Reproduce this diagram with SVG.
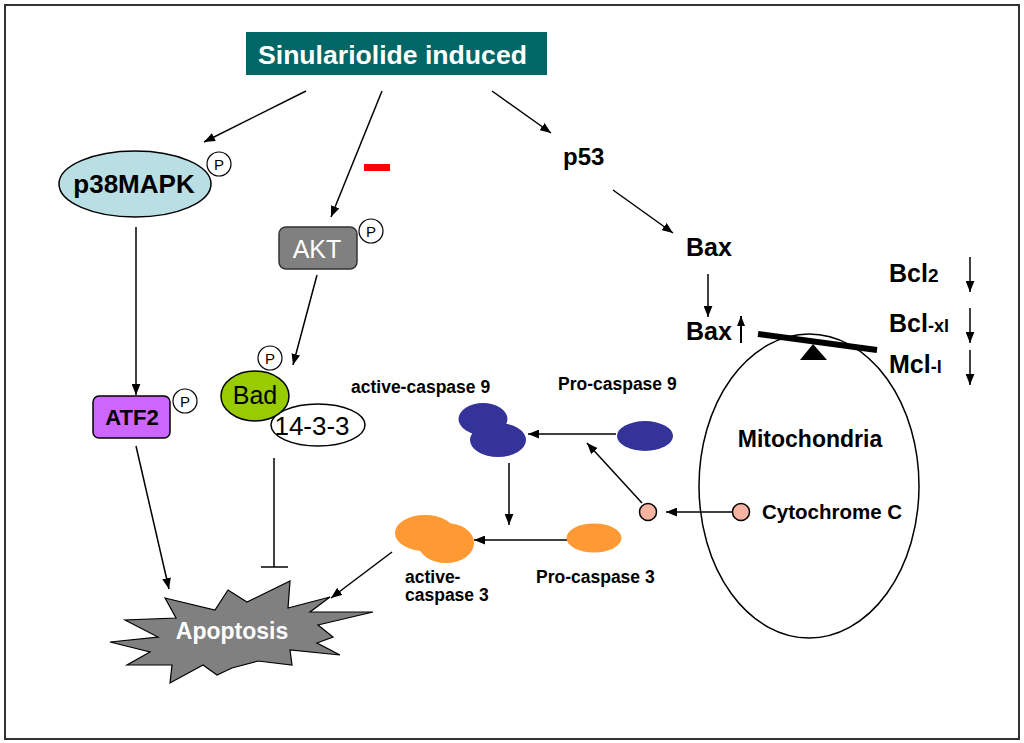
<svg xmlns="http://www.w3.org/2000/svg" width="1024" height="743" viewBox="0 0 1024 743">
<defs>
<marker id="arr" viewBox="0 0 10 8" refX="10" refY="4" markerWidth="11" markerHeight="9" markerUnits="userSpaceOnUse" orient="auto">
<path d="M0,0 L10,4 L0,8 z" fill="#000"/>
</marker>
<marker id="arrs" viewBox="0 0 10 8" refX="10" refY="4" markerWidth="10" markerHeight="8" markerUnits="userSpaceOnUse" orient="auto">
<path d="M0,0 L10,4 L0,8 z" fill="#000"/>
</marker>
<style>
text{font-family:"Liberation Sans",Arial,sans-serif;fill:#000}
.b{font-weight:bold}
.w{fill:#fff}
.ln{stroke:#000;stroke-width:1.5;fill:none}
.a{stroke:#000;stroke-width:1.5;fill:none;marker-end:url(#arr)}
.as{stroke:#000;stroke-width:2;fill:none;marker-end:url(#arrs)}
.p{fill:#fff;stroke:#000;stroke-width:1.2}
.pt{font-size:15px;text-anchor:middle}
.ol{stroke:#000;stroke-width:1.5}
.c9{fill:#333399}
.c3{fill:#ff9933}
.cyt{fill:#f8b4a2;stroke:#000;stroke-width:1.5}
.lbl{font-size:17.5px;font-weight:bold}
</style>
</defs>
<rect x="5" y="5" width="1014" height="734" fill="#fff" stroke="#333" stroke-width="2"/>

<g id="connectors">
<line class="a" x1="306" y1="91" x2="204" y2="142"/>
<line class="a" x1="382" y1="91" x2="331" y2="217"/>
<line class="a" x1="492" y1="91" x2="551" y2="133"/>
<line class="a" x1="136" y1="227" x2="136" y2="395"/>
<line class="a" x1="317" y1="275" x2="293" y2="365"/>
<line class="a" x1="136" y1="446" x2="169" y2="589"/>
<line class="ln" x1="274" y1="458" x2="274" y2="567" stroke-width="1.2"/>
<line class="ln" x1="261" y1="567" x2="288" y2="567" stroke-width="1.2"/>
<line class="a" x1="392" y1="552" x2="331" y2="598"/>
<line class="a" x1="567" y1="540" x2="474" y2="540"/>
<line class="a" x1="616" y1="434" x2="528" y2="434"/>
<line class="a" x1="509" y1="463" x2="509" y2="525"/>
<line class="a" x1="642" y1="503" x2="587" y2="443"/>
<line class="a" x1="733" y1="512" x2="666" y2="512"/>
<line class="a" x1="613" y1="190" x2="673" y2="233"/>
<line class="a" x1="708" y1="274" x2="708" y2="317"/>
<line class="as" x1="741" y1="343" x2="741" y2="316"/>
<line class="a" x1="970" y1="257" x2="970" y2="292"/>
<line class="a" x1="970" y1="308" x2="970" y2="343"/>
<line class="a" x1="970" y1="350" x2="970" y2="385"/>
</g>

<g id="title">
<rect x="246" y="32" width="301" height="43" fill="#006666"/>
<text x="258" y="64" class="b w" font-size="26.6">Sinulariolide induced</text>
</g>

<g id="inhibit-mark">
<rect x="364" y="164" width="26" height="7" fill="#ff0000"/>
</g>

<g id="p38MAPK">
<ellipse cx="135" cy="184" rx="76" ry="33" fill="#b9dfe4" class="ol"/>
<text x="134" y="193" class="b" font-size="26" text-anchor="middle">p38MAPK</text>
<circle cx="219" cy="164" r="12" class="p"/>
<text x="219" y="170" class="pt">P</text>
</g>

<g id="ATF2">
<rect x="93" y="396" width="77" height="42" rx="6" fill="#cc66ff" class="ol"/>
<text x="132" y="425" class="b" font-size="22" text-anchor="middle">ATF2</text>
<circle cx="185" cy="401" r="12" class="p"/>
<text x="185" y="407" class="pt">P</text>
</g>

<g id="AKT">
<rect x="279" y="227" width="78" height="42" rx="7" fill="#808080" stroke="#333" stroke-width="1.5"/>
<text x="317" y="258" class="w" font-size="25" text-anchor="middle">AKT</text>
<circle cx="371" cy="231" r="12" class="p"/>
<text x="371" y="237" class="pt">P</text>
</g>

<g id="Bad">
<circle cx="270" cy="358" r="12" class="p"/>
<text x="270" y="364" class="pt">P</text>
<ellipse cx="318" cy="425" rx="47" ry="21" fill="#fff" class="ol"/>
<ellipse cx="255" cy="396" rx="34" ry="25" fill="#99cc00" class="ol"/>
<text x="255" y="404" font-size="25" text-anchor="middle">Bad</text>
<text x="312" y="435" font-size="26" text-anchor="middle">14-3-3</text>
</g>

<g id="apoptosis">
<polygon points="165,598 215,610 228,590 247,602 290,581 288,608 330,597 310,612 373,612 318,625 333,637 317,643 340,655 290,650 292,665 258,661 232,668 217,675 203,665 170,683 172,665 127,665 150,652 110,642 158,637 125,620 176,618" fill="#808080" stroke="#000" stroke-width="1.2"/>
<text x="232" y="639" class="b w" font-size="23" text-anchor="middle">Apoptosis</text>
</g>

<g id="active-caspase9">
<ellipse cx="483" cy="419" rx="24.5" ry="16" class="c9"/>
<ellipse cx="498" cy="440" rx="28" ry="17" class="c9"/>
<text x="351" y="393" class="lbl">active-caspase 9</text>
</g>

<g id="pro-caspase9">
<ellipse cx="645" cy="436" rx="28" ry="15" class="c9"/>
<text x="558" y="390" class="lbl">Pro-caspase 9</text>
</g>

<g id="active-caspase3">
<ellipse cx="425" cy="533" rx="30" ry="18" class="c3"/>
<ellipse cx="446" cy="543" rx="28" ry="20" class="c3"/>
<text x="405" y="583" class="lbl">active-</text>
<text x="405" y="601" class="lbl">caspase 3</text>
</g>

<g id="pro-caspase3">
<ellipse cx="594" cy="538" rx="27.5" ry="14.5" class="c3"/>
<text x="536" y="583" class="lbl">Pro-caspase 3</text>
</g>

<g id="cytc-released">
<circle cx="648" cy="512" r="8.5" class="cyt"/>
</g>

<g id="mitochondria">
<ellipse cx="809" cy="486" rx="110" ry="152" fill="none" stroke="#000" stroke-width="1.5"/>
<text x="810" y="447" class="b" font-size="23" text-anchor="middle">Mitochondria</text>
<circle cx="741" cy="512" r="8.5" class="cyt"/>
<text x="762" y="519" class="b" font-size="20.5">Cytochrome C</text>
</g>

<g id="seesaw">
<line x1="758" y1="334" x2="877" y2="350" stroke="#000" stroke-width="6"/>
<polygon points="813,344 800,360 827,360" fill="#000"/>
</g>

<g id="p53">
<text x="563" y="165" class="b" font-size="24">p53</text>
</g>

<g id="Bax">
<text x="686" y="256" class="b" font-size="25">Bax</text>
</g>

<g id="Bax-up">
<text x="686" y="340" class="b" font-size="25">Bax</text>
</g>

<g id="Bcl2">
<text x="889" y="282" class="b" font-size="25">Bcl<tspan font-size="19">2</tspan></text>
</g>
<g id="Bcl-xl">
<text x="889" y="332" class="b" font-size="25">Bcl<tspan font-size="18">-xl</tspan></text>
</g>
<g id="Mcl-l">
<text x="889" y="373" class="b" font-size="25">Mcl<tspan font-size="18">-l</tspan></text>
</g>
</svg>
